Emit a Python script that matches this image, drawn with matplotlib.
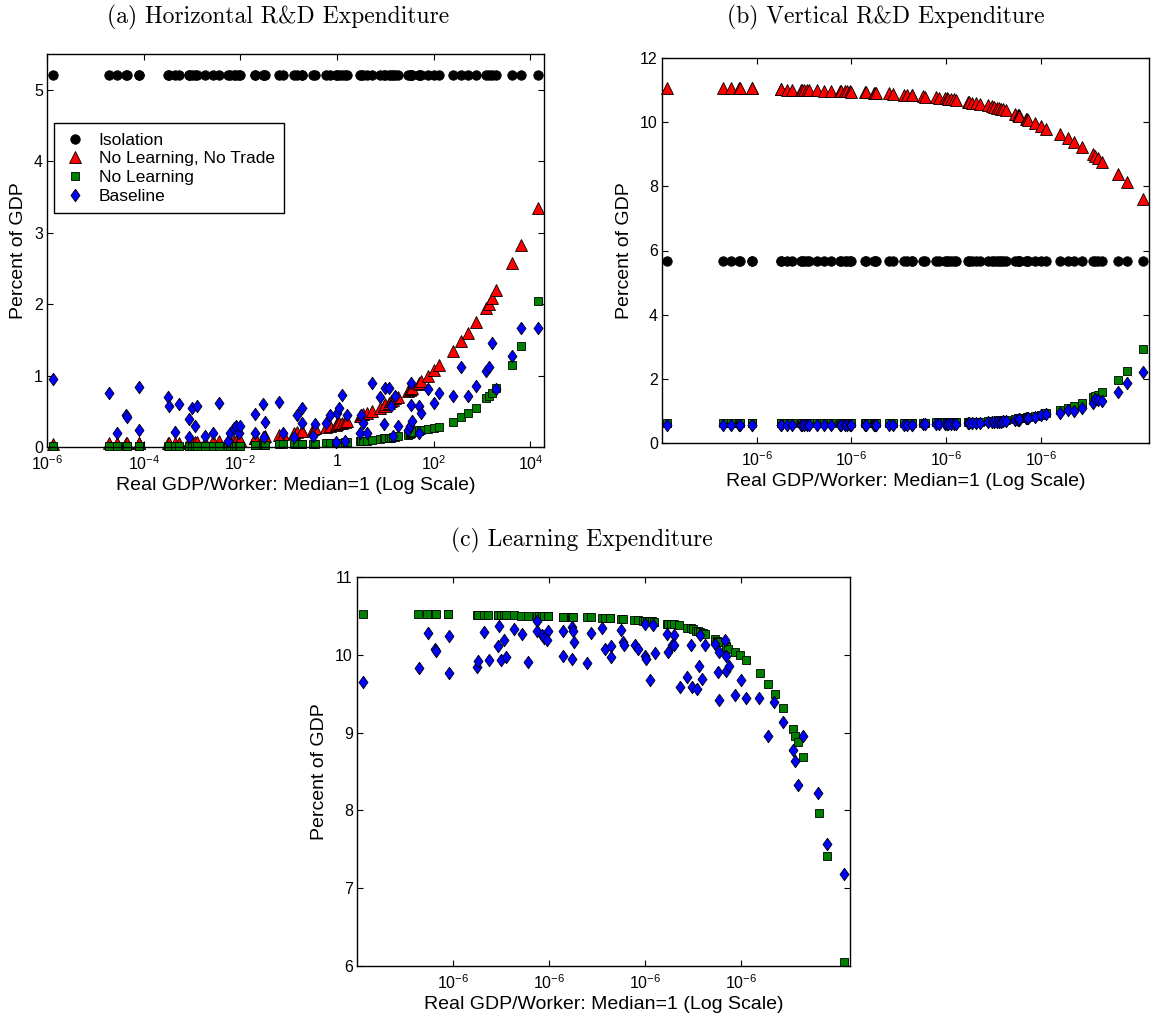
import numpy as np
import matplotlib
matplotlib.use('Agg')
import matplotlib.pyplot as plt
from matplotlib.ticker import NullLocator

plt.rcParams['font.family'] = ['Liberation Sans', 'DejaVu Sans']
plt.rcParams['mathtext.fontset'] = 'custom'
plt.rcParams['mathtext.rm'] = 'Liberation Sans'
plt.rcParams['mathtext.it'] = 'Liberation Sans:italic'
plt.rcParams['mathtext.bf'] = 'Liberation Sans:bold'

# log10 of real GDP per worker (median = 1), one entry per country
log_gdp = [-5.885, -4.722, -4.546, -4.370, -4.355, -4.105, -4.098, -3.495, -3.485, -3.360,
           -3.261, -3.069, -3.054, -3.001, -2.939, -2.901, -2.733, -2.572, -2.442, -2.251,
           -2.213, -2.136, -2.098, -2.025, -2.017, -1.705, -1.695, -1.524, -1.509, -1.486,
           -1.203, -1.126, -0.897, -0.835, -0.725, -0.717, -0.491, -0.453, -0.223, -0.147,
           -0.032, 0.006, 0.045, 0.106, 0.159, 0.198, 0.465, 0.488, 0.542, 0.618,
           0.718, 0.886, 0.963, 1.001, 1.077, 1.116, 1.154, 1.208, 1.254, 1.460,
           1.514, 1.530, 1.537, 1.545, 1.685, 1.695, 1.728, 1.881, 1.996, 2.110,
           2.401, 2.569, 2.707, 2.875, 3.090, 3.143, 3.197, 3.296, 3.625, 3.809,
           4.161]

# (a) horizontal R&D, percent of GDP
iso_h = 5.2
nlnt_h = [0.04, 0.05, 0.05, 0.05, 0.05, 0.05, 0.05, 0.06, 0.06, 0.06,
          0.06, 0.07, 0.07, 0.07, 0.07, 0.07, 0.07, 0.08, 0.08, 0.09,
          0.09, 0.09, 0.09, 0.10, 0.10, 0.12, 0.12, 0.14, 0.14, 0.15,
          0.17, 0.18, 0.20, 0.21, 0.22, 0.22, 0.25, 0.26, 0.28, 0.29,
          0.31, 0.32, 0.33, 0.34, 0.35, 0.36, 0.43, 0.44, 0.46, 0.48,
          0.50, 0.55, 0.58, 0.60, 0.62, 0.64, 0.66, 0.68, 0.70, 0.78,
          0.80, 0.81, 0.82, 0.83, 0.88, 0.90, 0.92, 1.00, 1.08, 1.15,
          1.35, 1.48, 1.60, 1.75, 1.95, 2.00, 2.08, 2.20, 2.58, 2.83,
          3.35]
nl_h = [0.01, 0.01, 0.01, 0.01, 0.01, 0.01, 0.01, 0.01, 0.01, 0.01,
        0.01, 0.01, 0.01, 0.01, 0.01, 0.01, 0.01, 0.01, 0.01, 0.015,
        0.015, 0.015, 0.02, 0.02, 0.02, 0.025, 0.025, 0.03, 0.03, 0.03,
        0.035, 0.035, 0.04, 0.04, 0.04, 0.04, 0.045, 0.045, 0.05, 0.05,
        0.055, 0.055, 0.06, 0.06, 0.065, 0.065, 0.08, 0.08, 0.09, 0.09,
        0.10, 0.11, 0.12, 0.12, 0.13, 0.13, 0.14, 0.14, 0.15, 0.17,
        0.18, 0.19, 0.20, 0.21, 0.23, 0.24, 0.24, 0.25, 0.27, 0.28,
        0.35, 0.42, 0.47, 0.55, 0.68, 0.72, 0.75, 0.82, 1.15, 1.41,
        2.05]
base_h = [0.95, 0.75, 0.20, 0.45, 0.42, 0.84, 0.24, 0.70, 0.57, 0.21,
          0.60, 0.39, 0.14, 0.54, 0.30, 0.57, 0.16, 0.19, 0.61, 0.08,
          0.20, 0.26, 0.29, 0.20, 0.29, 0.46, 0.20, 0.60, 0.14, 0.35,
          0.63, 0.20, 0.14, 0.45, 0.54, 0.33, 0.16, 0.32, 0.33, 0.45,
          0.07, 0.47, 0.54, 0.73, 0.09, 0.45, 0.20, 0.45, 0.34, 0.20,
          0.89, 0.70, 0.32, 0.82, 0.82, 0.57, 0.16, 0.71, 0.29, 0.24,
          0.29, 0.89, 0.59, 0.37, 0.20, 0.57, 0.48, 0.81, 0.61, 0.75,
          0.71, 1.12, 0.71, 0.85, 1.07, 1.12, 1.45, 0.81, 1.28, 1.67,
          1.67]

# (b) vertical R&D
iso_v = 5.67
nlnt_v = [11.06, 11.05, 11.05, 11.05, 11.05, 11.05, 11.05, 11.02, 11.02, 11.01,
          11.01, 11.00, 11.00, 11.00, 11.00, 10.99, 10.99, 10.98, 10.98, 10.97,
          10.97, 10.96, 10.96, 10.96, 10.95, 10.93, 10.93, 10.92, 10.92, 10.91,
          10.90, 10.89, 10.86, 10.85, 10.84, 10.84, 10.81, 10.80, 10.77, 10.76,
          10.74, 10.74, 10.73, 10.72, 10.71, 10.70, 10.63, 10.62, 10.61, 10.60,
          10.58, 10.52, 10.49, 10.48, 10.45, 10.43, 10.42, 10.40, 10.38, 10.25,
          10.22, 10.21, 10.20, 10.19, 10.10, 10.09, 10.06, 9.97, 9.88, 9.80,
          9.62, 9.50, 9.38, 9.22, 9.00, 8.93, 8.88, 8.75, 8.38, 8.12,
          7.60]
nl_v = [0.62, 0.62, 0.62, 0.62, 0.62, 0.62, 0.62, 0.62, 0.62, 0.62,
        0.62, 0.62, 0.62, 0.62, 0.62, 0.62, 0.62, 0.62, 0.62, 0.62,
        0.62, 0.62, 0.62, 0.62, 0.62, 0.62, 0.62, 0.62, 0.62, 0.62,
        0.63, 0.63, 0.63, 0.63, 0.63, 0.63, 0.63, 0.63, 0.64, 0.64,
        0.64, 0.64, 0.64, 0.64, 0.64, 0.64, 0.66, 0.66, 0.66, 0.67,
        0.67, 0.69, 0.69, 0.70, 0.70, 0.71, 0.71, 0.72, 0.72, 0.76,
        0.77, 0.77, 0.77, 0.78, 0.79, 0.80, 0.80, 0.84, 0.88, 0.92,
        1.02, 1.10, 1.15, 1.26, 1.43, 1.47, 1.50, 1.60, 1.96, 2.23,
        2.92]
base_v = [0.55, 0.55, 0.55, 0.55, 0.55, 0.55, 0.55, 0.55, 0.55, 0.55,
          0.55, 0.55, 0.55, 0.55, 0.55, 0.55, 0.55, 0.55, 0.55, 0.55,
          0.55, 0.55, 0.55, 0.55, 0.55, 0.55, 0.55, 0.55, 0.55, 0.56,
          0.56, 0.56, 0.57, 0.57, 0.57, 0.57, 0.58, 0.58, 0.58, 0.58,
          0.58, 0.59, 0.59, 0.59, 0.59, 0.59, 0.61, 0.61, 0.62, 0.62,
          0.63, 0.64, 0.65, 0.65, 0.66, 0.67, 0.67, 0.68, 0.69, 0.72,
          0.73, 0.73, 0.74, 0.74, 0.77, 0.78, 0.79, 0.82, 0.86, 0.90,
          0.93, 1.02, 0.99, 1.10, 1.25, 1.36, 1.33, 1.30, 1.60, 1.88,
          2.22]

# (c) learning expenditure
nl_learn = [10.52, 10.52, 10.52, 10.52, 10.52, 10.52, 10.52, 10.51, 10.51, 10.51,
            10.51, 10.51, 10.51, 10.51, 10.51, 10.51, 10.51, 10.50, 10.50, 10.50,
            10.50, 10.50, 10.50, 10.50, 10.50, 10.49, 10.49, 10.49, 10.49, 10.49,
            10.48, 10.48, 10.47, 10.47, 10.47, 10.47, 10.46, 10.46, 10.45, 10.45,
            10.44, 10.44, 10.44, 10.43, 10.43, 10.42, 10.40, 10.40, 10.39, 10.39,
            10.38, 10.35, 10.34, 10.33, 10.31, 10.30, 10.29, 10.28, 10.27, 10.20,
            10.18, 10.17, 10.17, 10.16, 10.11, 10.10, 10.08, 10.04, 10.00, 9.93,
            9.77, 9.63, 9.50, 9.32, 9.05, 8.96, 8.88, 8.68, 7.97, 7.42,
            6.05]
base_learn_x = [-5.885, -4.70, -4.52, -4.37, -4.355, -4.09, -4.08, -3.49, -3.47, -3.35,
                -3.24, -3.06, -3.04, -2.99, -2.93, -2.89, -2.72, -2.56, -2.43, -2.25,
                -2.25, -2.15, -2.11, -2.02, -2.03, -1.70, -1.70, -1.51, -1.49, -1.47,
                -1.51, -1.21, -1.13, -0.89, -0.82, -0.71, -0.71, -0.49, -0.45, -0.44,
                -0.20, -0.14, -0.005, -0.005, 0.03, 0.11, 0.17, 0.21, 0.46, 0.48,
                0.56, 0.62, 0.62, 0.73, 0.89, 0.97, 0.99, 1.09, 1.13, 1.15,
                1.20, 1.26, 1.47, 1.53, 1.55, 1.55, 1.67, 1.69, 1.70, 1.75,
                1.89, 2.00, 2.12, 2.39, 2.58, 2.70, 2.88, 3.09, 3.13, 3.20,
                3.30, 3.62, 3.81, 4.16]
base_learn = [9.65, 9.83, 10.28, 10.08, 10.05, 10.24, 9.76, 9.84, 9.92, 10.29,
              9.93, 10.11, 10.37, 9.93, 10.19, 9.97, 10.33, 10.27, 9.91, 10.43,
              10.31, 10.26, 10.21, 10.31, 10.19, 10.30, 9.99, 10.36, 10.31, 10.16,
              9.94, 9.90, 10.28, 10.35, 10.07, 10.11, 9.97, 10.32, 10.17, 10.12,
              10.13, 10.08, 10.40, 9.99, 9.95, 9.67, 10.38, 10.02, 10.27, 10.04,
              10.12, 10.26, 10.12, 9.58, 9.72, 10.12, 9.59, 9.56, 9.85, 10.26,
              9.69, 10.12, 10.14, 9.78, 9.42, 10.04, 10.19, 9.99, 9.79, 9.85,
              9.48, 9.67, 9.44, 9.44, 8.96, 9.39, 9.13, 8.77, 8.64, 8.33,
              8.96, 8.22, 7.57, 7.18]

x = 10 ** np.array(log_gdp)
xb = 10 ** np.array(base_learn_x)

diamond = [(0, 1), (0.72, 0), (0, -1), (-0.72, 0), (0, 1)]
mk = dict(linestyle='none', markeredgecolor='black', markeredgewidth=0.6, clip_on=False)
iso_style = dict(marker='o', markersize=6.8, markerfacecolor='black', **mk)
nlnt_style = dict(marker='^', markersize=8, markerfacecolor='#ff0000', **mk)
nl_style = dict(marker='s', markersize=5.5, markerfacecolor='#008000', **mk)
base_style = dict(marker=diamond, markersize=9, markerfacecolor='#0000ff', **mk)

fig = plt.figure(figsize=(11.53, 10.26), dpi=100)
W, H = 1153.0, 1026.0


def make_axes(left, top, right, bottom):
    return fig.add_axes([left / W, 1 - bottom / H, (right - left) / W, (bottom - top) / H])


def style(ax, ylim, yticks, xticks, xlabels):
    ax.set_xscale('log')
    ax.set_xlim(1e-6, 10 ** 4.28)
    ax.set_ylim(*ylim)
    ax.set_yticks(yticks)
    ax.set_xticks(xticks)
    ax.set_xticklabels(xlabels)
    ax.xaxis.set_minor_locator(NullLocator())
    ax.tick_params(direction='in', top=True, right=True, length=4.5, width=0.8,
                   labelsize=11.5)
    ax.tick_params(axis='x', pad=5)
    ax.tick_params(axis='y', pad=3)
    for s in ax.spines.values():
        s.set_linewidth(1.0)
    ax.set_xlabel('Real GDP/Worker: Median=1 (Log Scale)', fontsize=14, labelpad=3)
    ax.set_ylabel('Percent of GDP', fontsize=14, labelpad=5)


title_font = dict(family=['cmr10', 'DejaVu Serif'], fontsize=17, ha='center', va='center')

# (a)
ax = make_axes(47, 54, 544, 447)
ax.plot(x, [iso_h] * len(x), label='Isolation', **iso_style)
ax.plot(x, nlnt_h, label='No Learning, No Trade', **nlnt_style)
ax.plot(x, nl_h, label='No Learning', **nl_style)
ax.plot(x, base_h, label='Baseline', **base_style)
style(ax, (0, 5.5), range(0, 6), [1e-6, 1e-4, 1e-2, 1, 1e2, 1e4],
      ['$10^{-6}$', '$10^{-4}$', '$10^{-2}$', '1', '$10^{2}$', '$10^{4}$'])
leg = ax.legend(loc='upper left', bbox_to_anchor=(0.015, 0.824), fontsize=12.5,
                frameon=True, fancybox=False, edgecolor='black', framealpha=1,
                borderpad=0.55, labelspacing=0.2, handlelength=1.3, handletextpad=0.7,
                borderaxespad=0, numpoints=1)
leg.get_frame().set_linewidth(1.0)
fig.text(278 / W, 1 - 17 / H, '(a) Horizontal R&D Expenditure', **title_font)

# (b)
ax = make_axes(662, 58, 1149, 443)
ax.plot(x, [iso_v] * len(x), **iso_style)
ax.plot(x, nlnt_v, **nlnt_style)
ax.plot(x, nl_v, **nl_style)
ax.plot(x, base_v, **base_style)
style(ax, (0, 12), range(0, 13, 2), [1e-4, 1e-2, 1, 1e2], ['$10^{-6}$'] * 4)
fig.text(886 / W, 1 - 17 / H, '(b) Vertical R&D Expenditure', **title_font)

# (c)
ax = make_axes(357, 577, 850, 966)
ax.plot(x, nl_learn, **nl_style)
ax.plot(xb, base_learn, **base_style)
style(ax, (6, 11), range(6, 12), [1e-4, 1e-2, 1, 1e2], ['$10^{-6}$'] * 4)
fig.text(582 / W, 1 - 540 / H, '(c) Learning Expenditure', **title_font)

fig.savefig('out.png', dpi=100)
